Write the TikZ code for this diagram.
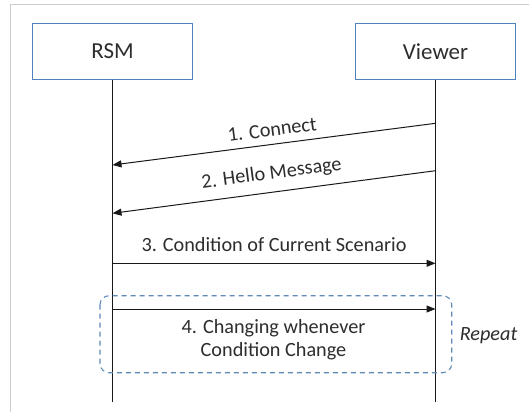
\documentclass[tikz,border=0pt]{standalone}
\usepackage{fontspec}
\setmainfont{Carlito}
\usetikzlibrary{arrows.meta}
\definecolor{boxblue}{RGB}{79,129,189}
\definecolor{loopblue}{RGB}{96,138,184}
\definecolor{txt}{RGB}{45,45,45}
\definecolor{framegray}{RGB}{205,205,205}
\tikzset{
  actor/.style={draw=boxblue, line width=1pt, fill=white, minimum width=160bp, minimum height=56bp, inner sep=0pt, font=\fontsize{23}{26}\selectfont, text=txt},
  lifeline/.style={line width=1.1pt, black!90},
  msg/.style={line width=1pt, black!90, -{Triangle[length=9bp, width=7bp]}},
  lbl/.style={font=\fontsize{20.3}{23}\selectfont, text=txt, inner sep=1bp},
  loopbox/.style={draw=loopblue, line width=1.1pt, dash pattern=on 5bp off 4bp, rounded corners=9bp}
}
\begin{document}
\begin{tikzpicture}[x=1bp, y=-1bp]
  \useasboundingbox (0,0) rectangle (529,411);
  \fill[white] (0,0) rectangle (529,411);
  % outer frame (only its top and left edges fall inside the page)
  \begin{scope}
    \clip (0,0) rectangle (529,411);
    \draw[framegray, line width=0.8pt] (10.5,4.5) rectangle (560,440);
  \end{scope}

  % participants
  \node[actor] (rsm) at (112.5,51.5) {RSM};
  \node[actor] (viewer) at (435.5,51.5) {Viewer};

  % lifeline ends
  \coordinate (rsmEnd) at (112.5,402);
  \coordinate (viewerEnd) at (435.5,402);
  \draw[lifeline] (rsm.south) -- (rsmEnd);
  \draw[lifeline] (viewer.south) -- (viewerEnd);

  % message anchor points on the lifelines
  \coordinate (v1) at (435.5,123.3);
  \coordinate (r1) at (112.5,165);
  \coordinate (v2) at (435.5,170.7);
  \coordinate (r2) at (112.5,213.3);
  \coordinate (r3) at (112.5,263.3);
  \coordinate (v3) at (435.5,263.3);
  \coordinate (r4) at (112.5,309);
  \coordinate (v4) at (435.5,309);

  % repeat frame
  \draw[loopbox] (100,295.7) rectangle (451.7,372.7);
  \node[lbl, font=\fontsize{20.3}{23}\selectfont\itshape, anchor=base] (rep) at (488.5,340) {Repeat};

  % messages
  \draw[msg] (v1) -- node[lbl, sloped, above=6.5bp] (m1) {1. Connect} (r1);
  \draw[msg] (v2) -- node[lbl, sloped, above=8bp] (m2) {2. Hello Message} (r2);
  \draw[msg] (r3) -- node[lbl, above=10bp] (m3) {3. Condition of Current Scenario} (v3);
  \draw[msg] (r4) -- (v4);
  \node[lbl, align=center] (m4) at (273.5,339.5) {4. Changing whenever\\Condition Change};
\end{tikzpicture}
\end{document}
